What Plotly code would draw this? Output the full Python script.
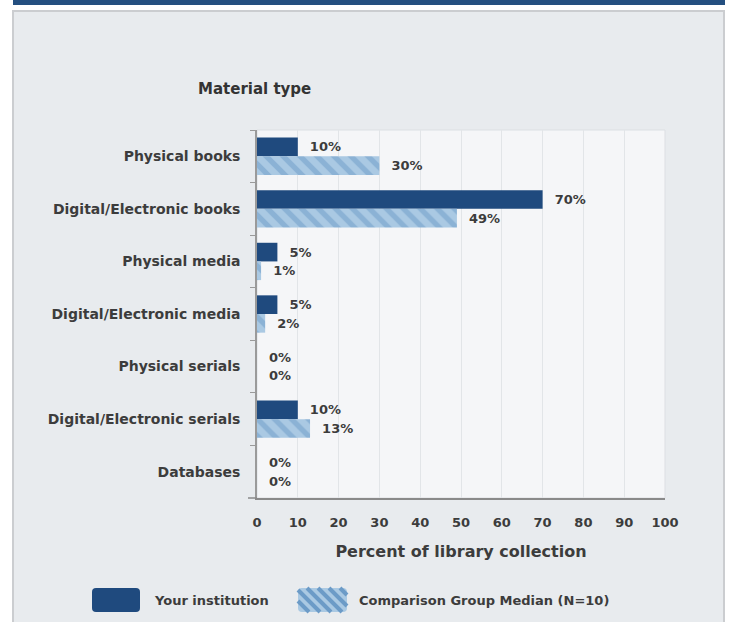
import plotly.graph_objects as go

# ---- data ----
categories = ["Physical books", "Digital/Electronic books", "Physical media",
              "Digital/Electronic media", "Physical serials",
              "Digital/Electronic serials", "Databases"]
your_institution = [10, 70, 5, 5, 0, 10, 0]
comparison_median = [30, 49, 1, 2, 0, 13, 0]
x_ticks = [0, 10, 20, 30, 40, 50, 60, 70, 80, 90, 100]
series_names = ["Your institution", "Comparison Group Median (N=10)"]

# ---- styling ----
W, H = 731, 622
L, R, T, B = 257, 665, 130, 498
FONT = "DejaVu Sans"
DARK = "#1f4a7e"
LIGHT = "#aac9e3"
STRIPE = "#6c9bc7"
TXT = "#3c3c3c"


def px(x):
    return (x - L) / (R - L)


def py(y):
    return (B - y) / (B - T)


def rr_path(x0, y0, x1, y1, r):
    pts = [("M", [(x0 + r, y0)]), ("L", [(x1 - r, y0)]), ("Q", [(x1, y0), (x1, y0 + r)]),
           ("L", [(x1, y1 - r)]), ("Q", [(x1, y1), (x1 - r, y1)]), ("L", [(x0 + r, y1)]),
           ("Q", [(x0, y1), (x0, y1 - r)]), ("L", [(x0, y0 + r)]), ("Q", [(x0, y0), (x0 + r, y0)])]
    s = ""
    for cmd, ps in pts:
        s += cmd + " ".join(f"{px(a):.5f},{py(b):.5f}" for a, b in ps) + " "
    return s + "Z"


def stripes_path(x0, y0, x1, y1, step):
    s = ""
    c = x0 - y1
    while c < x1 - y0:
        xa = max(x0, y0 + c)
        xb = min(x1, y1 + c)
        if xb > xa:
            s += f"M{px(xa):.5f},{py(xa - c):.5f} L{px(xb):.5f},{py(xb - c):.5f} "
        c += step
    return s


fig = go.Figure()
fig.add_trace(go.Bar(
    y=categories, x=your_institution, orientation="h", name=series_names[0],
    marker=dict(color=DARK, line=dict(width=0)),
    texttemplate="\u00a0\u00a0%{x}%", textposition="outside", cliponaxis=False,
    constraintext="none",
    textfont=dict(family=FONT, size=13, color=TXT, weight="bold"),
    showlegend=False,
))
fig.add_trace(go.Bar(
    y=categories, x=comparison_median, orientation="h", name=series_names[1],
    marker=dict(color=LIGHT, line=dict(width=0),
                pattern=dict(shape="\\", fgcolor=STRIPE, bgcolor=LIGHT,
                             fillmode="overlay", size=12, solidity=0.45)),
    texttemplate="\u00a0\u00a0%{x}%", textposition="outside", cliponaxis=False,
    constraintext="none",
    textfont=dict(family=FONT, size=13, color=TXT, weight="bold"),
    showlegend=False,
))

shapes = [
    # panel
    dict(type="rect", xref="paper", yref="paper", layer="below",
         x0=px(13), x1=px(724), y0=py(640), y1=py(11),
         fillcolor="#e8ebee", line=dict(color="#cbcdd0", width=2)),
    # top band
    dict(type="rect", xref="paper", yref="paper", layer="below",
         x0=px(13), x1=px(725), y0=py(5), y1=py(-2),
         fillcolor="#244f80", line=dict(width=0)),
    # plot background
    dict(type="rect", xref="paper", yref="paper", layer="below",
         x0=0, x1=1, y0=0, y1=1,
         fillcolor="#f5f6f8", line=dict(color="#dcdfe3", width=1)),
    # extension of bottom axis line
    dict(type="line", xref="paper", yref="paper",
         x0=px(248), x1=0, y0=0, y1=0, line=dict(color="#8a8a8a", width=1.5)),
    # legend swatches
    dict(type="path", xref="paper", yref="paper", path=rr_path(92, 588, 140, 612, 4),
         fillcolor=DARK, line=dict(width=0)),
    dict(type="path", xref="paper", yref="paper", path=rr_path(298, 588, 347, 612, 4),
         fillcolor=LIGHT, line=dict(width=0)),
    dict(type="path", xref="paper", yref="paper", path=stripes_path(298, 588, 347, 612, 11),
         line=dict(color=STRIPE, width=4)),
]

annotations = [
    dict(xref="paper", yref="paper", x=px(152), y=py(600), xanchor="left", yanchor="middle",
         text=series_names[0], showarrow=False,
         font=dict(family=FONT, size=13, color=TXT, weight="bold")),
    dict(xref="paper", yref="paper", x=px(357), y=py(600), xanchor="left", yanchor="middle",
         text=series_names[1], showarrow=False,
         font=dict(family=FONT, size=13, color=TXT, weight="bold")),
]

fig.update_layout(
    width=W, height=H,
    margin=dict(l=L, r=W - R, t=T, b=H - B, pad=0),
    paper_bgcolor="white", plot_bgcolor="rgba(0,0,0,0)",
    barmode="group", bargap=0.29, bargroupgap=0.0,
    title=dict(text="Material type", xref="container", yref="container",
               x=198 / W, y=1 - 89 / H, xanchor="left", yanchor="middle",
               font=dict(family=FONT, size=15, color="#333333", weight="bold")),
    shapes=shapes, annotations=annotations, showlegend=False,
)
fig.update_xaxes(
    range=[0, 100], tickvals=x_ticks, ticktext=[str(v) for v in x_ticks],
    showgrid=True, gridcolor="#e2e5e8", gridwidth=1, zeroline=False,
    showline=True, linecolor="#8a8a8a", linewidth=1.5,
    ticks="", ticklabelstandoff=12,
    tickfont=dict(family=FONT, size=13, color=TXT, weight="bold"),
    title=dict(text="Percent of library collection", standoff=16,
               font=dict(family=FONT, size=16, color=TXT, weight="bold")),
    fixedrange=True,
)
fig.update_yaxes(
    autorange="reversed", showgrid=False, zeroline=False,
    showline=True, linecolor="#9a9a9a", linewidth=1.5,
    ticks="outside", tickson="boundaries", ticklen=5, tickcolor="#9a9a9a",
    ticklabelstandoff=12,
    tickfont=dict(family=FONT, size=14, color=TXT, weight="bold"),
    fixedrange=True,
)

fig.write_html("out.html", config={"displayModeBar": False},
               post_script="document.body.style.margin='0';")
